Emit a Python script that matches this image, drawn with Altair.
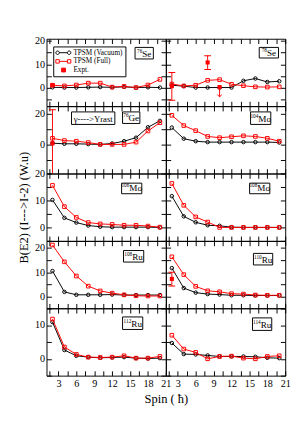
import altair as alt
import pandas as pd

SERIF = "Liberation Serif"

# ---------------- data ----------------
spin = [2, 4, 6, 8, 10, 12, 14, 16, 18, 20]

se76_vac = [0.1, 0.0, 0.0, 0.1, 0.2, 0.1, 0.3, 0.0, 0.1, 0.0]
se76_full = [1.0, 0.7, 1.1, 1.9, 1.9, 0.2, 0.5, 0.0, 1.1, 3.5]
se78_vac = [1.0, 0.6, 0.0, 0.0, 0.0, 0.0, 2.9, 3.9, 2.4, 2.7]
se78_full = [1.5, 0.7, 1.0, 3.1, 3.4, 1.4, 0.8, 0.3, 0.2, 0.3]
ge76_vac = [0.8, 0.4, 0.4, 0.2, 0.0, 0.6, 2.1, 4.4, 11.2, 15.4]
ge76_full = [4.0, 2.5, 2.1, 1.2, 0.0, 0.0, 0.0, 1.5, 8.8, 14.2]
mo104_vac = [11.0, 3.75, 2.1, 1.5, 1.5, 1.5, 1.5, 1.5, 1.5, 1.25]
mo104_full = [19.0, 12.3, 9.0, 5.2, 4.4, 5.0, 5.6, 5.2, 4.0, 2.1]
mo106_vac = [10.2, 3.55, 1.8, 0.7, 0.25, 0.1, 0.1, 0.1, 0.1, 0.0]
mo106_full = [15.6, 7.7, 3.7, 1.8, 1.3, 1.1, 0.8, 0.8, 0.5, 0.1]
mo108_vac = [11.6, 4.1, 1.9, 0.8, 0.6, 0.1, 0.0, 0.0, 0.0, 0.0]
mo108_full = [16.3, 8.2, 3.9, 2.0, 0.0, 0.0, 0.0, 0.0, 0.0, 0.0]
ru108_vac = [10.5, 1.8, 0.6, 0.6, 0.6, 0.7, 0.5, 0.5, 0.5, 0.5]
ru108_full = [21.3, 14.3, 8.4, 4.2, 2.2, 1.3, 0.6, 0.2, 0.1, 0.1]
ru110_vac = [11.7, 3.4, 1.5, 0.9, 0.7, 0.4, 0.4, 0.3, 0.3, 0.3]
ru110_full = [16.4, 9.0, 4.1, 2.25, 1.85, 1.06, 0.9, 0.5, 0.4, 0.4]
ru112_vac = [10.9, 2.6, 0.9, 0.5, 0.3, 0.4, 0.5, 0.2, 0.1, 0.2]
ru112_full = [11.8, 3.5, 1.3, 0.5, 0.4, 0.5, 0.9, 0.2, 0.2, 0.7]
ru114_vac = [4.7, 1.4, 1.3, 1.0, 0.7, 0.7, 0.7, 0.6, 0.3, 0.2]
ru114_full = [7.0, 2.9, 1.9, 0.0, 0.7, 0.8, 0.2, 0.0, 0.7, 0.9]

panel_keys = ["76Se", "78Se", "76Ge", "104Mo", "106Mo", "108Mo", "108Ru", "110Ru", "112Ru", "114Ru"]
panel_mass = ["76", "78", "76", "104", "106", "108", "108", "110", "112", "114"]
panel_elem = ["Se", "Se", "Ge", "Mo", "Mo", "Mo", "Ru", "Ru", "Ru", "Ru"]
vac_series = [se76_vac, se78_vac, ge76_vac, mo104_vac, mo106_vac, mo108_vac, ru108_vac, ru110_vac, ru112_vac, ru114_vac]
full_series = [se76_full, se78_full, ge76_full, mo104_full, mo106_full, mo108_full, ru108_full, ru110_full, ru112_full, ru114_full]

expt_nuc = ["76Se", "78Se", "78Se", "78Se", "76Ge", "110Ru"]
expt_spin = [2, 2, 8, 10, 2, 2]
expt_val = [1.1, 0.6, 10.8, 0.2, 0.7, 7.2]

err_nuc = ["78Se", "78Se", "76Ge", "110Ru"]
err_spin = [2, 8, 2, 2]
err_lo = [-5.5, 7.8, -25.0, 4.3]
err_hi = [6.5, 13.7, 22.7, 10.0]

lim_nuc = ["78Se"]
lim_spin = [10]
lim_from = [0.2]
lim_to = [-4.0]

legend_names = ["TPSM (Vacuum)", "TPSM (Full)", "Expt."]

row_domains = [[-8, 21], [-19, 25], [-5, 20], [-5, 23], [-5, 15]]
row_ticks = [[-5, 0, 5, 10, 15, 20], [-10, 0, 10, 20], [-5, 0, 5, 10, 15, 20],
             [-5, 0, 5, 10, 15, 20], [-5, 0, 5, 10, 15]]
row_label_step = [10, 20, 10, 10, 10]
x_ticks = [1.5, 3, 4.5, 6, 7.5, 9, 10.5, 12, 13.5, 15, 16.5, 18, 19.5, 21]

x_title = "Spin ( ħ)"
y_title = "B(E2) (I--->I-2) (W.u)"
extra_note = "γ---->Yrast"

# ---------------- layout ----------------
PW, PH = 124, 70
boxes = {
    "76Se": (92, 111, 9, 21), "78Se": (97, 117, 9, 20),
    "76Ge": (79, 97, 6, 18), "104Mo": (88, 109, 6, 19),
    "106Mo": (78, 99, 10, 21), "108Mo": (87, 108, 10, 21),
    "108Ru": (80, 101, 10, 22), "110Ru": (91, 111, 13, 25),
    "112Ru": (79, 100, 9, 22), "114Ru": (90, 110, 10, 23),
}
note_box = (26, 71, 6, 19)
MASS_FS, ELEM_FS = 5.5, 9.5
glyph_w = {"S": 0.556, "e": 0.444, "G": 0.722, "M": 0.889, "o": 0.5, "R": 0.667, "u": 0.5}

s = 0.45
path_vac = ("M-0.05,0L2.05,0"
            f"M-0.95,0A{s},{s} 0 1,0 -0.05,0A{s},{s} 0 1,0 -0.95,0"
            f"M2.05,0A{s},{s} 0 1,0 2.95,0A{s},{s} 0 1,0 2.05,0")
path_full = ("M-0.05,0L2.05,0"
             f"M-0.95,-{s}H-0.05V{s}H-0.95Z"
             f"M2.05,-{s}H2.95V{s}H2.05Z")
path_expt = "M0.55,-0.5H1.55V0.5H0.55Z"


def rect_layer(b):
    x0, x1, y0, y1 = b
    return alt.Chart(pd.DataFrame({"t": [""]})).mark_rect(
        fill="white", stroke="black", strokeWidth=1).encode(
        x=alt.value(x0), x2=alt.value(x1), y=alt.value(y0), y2=alt.value(y1))


def nucleus_layers(mass, elem, b):
    x0, x1, y0, y1 = b
    mw = len(mass) * 0.5 * MASS_FS
    ew = sum(glyph_w[c] for c in elem) * ELEM_FS
    start = (x0 + x1) / 2 - (mw + ew) / 2
    split = start + mw
    m = alt.Chart(pd.DataFrame({"t": [mass]})).mark_text(
        font=SERIF, fontSize=MASS_FS, color="black", align="right",
        baseline="alphabetic").encode(x=alt.value(split), y=alt.value(y1 - 6.5), text="t:N")
    e = alt.Chart(pd.DataFrame({"t": [elem]})).mark_text(
        font=SERIF, fontSize=ELEM_FS, color="black", align="left",
        baseline="alphabetic").encode(x=alt.value(split), y=alt.value(y1 - 2.5), text="t:N")
    return [rect_layer(b), m, e]


def note_layers(label, b):
    x0, x1, y0, y1 = b
    t = alt.Chart(pd.DataFrame({"t": [label]})).mark_text(
        font=SERIF, fontSize=9, color="black", align="center",
        baseline="alphabetic").encode(x=alt.value((x0 + x1) / 2), y=alt.value(y1 - 3), text="t:N")
    return [rect_layer(b), t]


def make_panel(i):
    row, col = divmod(i, 2)
    key = panel_keys[i]
    xs = alt.Scale(domain=[1, 21], nice=False, zero=False)
    ys = alt.Scale(domain=row_domains[row], nice=False, zero=False)
    common = dict(offset=-5, tickSize=5, domain=False, grid=False, tickColor="black",
                  tickWidth=1, labelFont=SERIF, labelFontSize=10.5, labelColor="black",
                  labelFlush=False, labelOverlap=False, titleFont=SERIF,
                  titleFontSize=13, titleFontWeight="normal", titleColor="black")
    xlab = "datum.value % 3 == 0 ? datum.label : ''"
    ylab = f"datum.value % {row_label_step[row]} == 0 ? datum.label : ''"
    xb_kw = dict(orient="bottom", values=x_ticks, labels=(row == 4), labelExpr=xlab,
                 labelPadding=3, **common)
    if row == 4 and col == 0:
        xb = alt.Axis(title=x_title, titleX=PW, titleAlign="center", titlePadding=4, **xb_kw)
    else:
        xb = alt.Axis(title=None, **xb_kw)
    yl_kw = dict(orient="left", values=row_ticks[row], labels=(col == 0), labelExpr=ylab,
                 labelPadding=2, **common)
    if row == 2 and col == 0:
        yl = alt.Axis(title=y_title, titlePadding=4, **yl_kw)
    else:
        yl = alt.Axis(title=None, **yl_kw)
    xt = alt.Axis(orient="top", values=x_ticks, labels=False, title=None, **common)
    yr = alt.Axis(orient="right", values=row_ticks[row], labels=False, title=None, **common)

    dv = pd.DataFrame({"spin": spin, "val": vac_series[i]})
    dfu = pd.DataFrame({"spin": spin, "val": full_series[i]})

    layers = [
        alt.Chart(dv).mark_line(color="black", strokeWidth=1).encode(
            x=alt.X("spin:Q", scale=xs, axis=xb), y=alt.Y("val:Q", scale=ys, axis=yl)),
        alt.Chart(dv).mark_point(shape="circle", filled=False, color="black", size=13,
                                 strokeWidth=1, opacity=1).encode(
            x=alt.X("spin:Q", axis=None), y=alt.Y("val:Q", axis=None)),
        alt.Chart(dfu).mark_line(color="red", strokeWidth=1).encode(
            x=alt.X("spin:Q", scale=xs, axis=xt), y=alt.Y("val:Q", scale=ys, axis=yr)),
        alt.Chart(dfu).mark_point(shape="square", filled=False, color="red", size=14,
                                  strokeWidth=1, opacity=1).encode(
            x=alt.X("spin:Q", axis=None), y=alt.Y("val:Q", axis=None)),
    ]

    ed = pd.DataFrame({"nuc": err_nuc, "spin": err_spin, "lo": err_lo, "hi": err_hi})
    ed = ed[ed.nuc == key]
    if len(ed):
        layers.append(alt.Chart(ed).mark_rule(color="red", strokeWidth=1, clip=True).encode(
            x=alt.X("spin:Q", axis=None), y=alt.Y("lo:Q", axis=None), y2="hi:Q"))
        for fld in ["lo", "hi"]:
            layers.append(alt.Chart(ed).mark_tick(color="red", orient="horizontal", size=7,
                                                  thickness=1, opacity=1, clip=True).encode(
                x=alt.X("spin:Q", axis=None), y=alt.Y(f"{fld}:Q", axis=None)))
    ld = pd.DataFrame({"nuc": lim_nuc, "spin": lim_spin, "a": lim_from, "b": lim_to})
    ld = ld[ld.nuc == key]
    if len(ld):
        layers.append(alt.Chart(ld).mark_rule(color="red", strokeWidth=1).encode(
            x=alt.X("spin:Q", axis=None), y=alt.Y("a:Q", axis=None), y2="b:Q"))
        layers.append(alt.Chart(ld).mark_point(shape="M-1,-1L0,0L1,-1", filled=False,
                                                color="red", size=22, strokeWidth=1,
                                                opacity=1).encode(
            x=alt.X("spin:Q", axis=None), y=alt.Y("b:Q", axis=None)))
    xd = pd.DataFrame({"nuc": expt_nuc, "spin": expt_spin, "val": expt_val})
    xd = xd[xd.nuc == key]
    if len(xd):
        layers.append(alt.Chart(xd).mark_square(color="red", size=18, opacity=1).encode(
            x=alt.X("spin:Q", axis=None), y=alt.Y("val:Q", axis=None)))

    layers += nucleus_layers(panel_mass[i], panel_elem[i], boxes[key])
    if key == "76Ge":
        layers += note_layers(extra_note, note_box)

    if key == "76Se":
        leg = alt.Legend(orient="none", legendX=7, legendY=8, title=None, padding=2,
                         strokeColor="black", fillColor="white", symbolSize=64,
                         symbolStrokeWidth=1, symbolOpacity=1, labelFont=SERIF,
                         labelFontSize=7.5, labelColor="black", labelOffset=10,
                         rowPadding=0, cornerRadius=0)
        dl = pd.DataFrame({"series": legend_names})
        layers.append(alt.Chart(dl).mark_point(clip=True, opacity=1).encode(
            x=alt.value(-60), y=alt.value(-60),
            shape=alt.Shape("series:N", legend=leg, scale=alt.Scale(
                domain=legend_names, range=[path_vac, path_full, path_expt])),
            stroke=alt.Stroke("series:N", legend=leg, scale=alt.Scale(
                domain=legend_names, range=["black", "red", "red"])),
            fill=alt.Fill("series:N", legend=leg, scale=alt.Scale(
                domain=legend_names, range=["white", "white", "red"])),
        ))

    return alt.layer(*layers).resolve_axis(x="independent", y="independent").properties(
        width=PW, height=PH)


panels = [make_panel(i) for i in range(10)]

chart = alt.concat(*panels, columns=2, spacing=0, bounds="flush").resolve_scale(
    shape="independent", stroke="independent", fill="independent"
).properties(
    padding={"left": 10, "top": 20, "right": 0, "bottom": 4},
    background="white",
).configure_view(stroke="black", strokeWidth=1)

chart.save("out.html", embed_options={"renderer": "svg", "actions": False})
